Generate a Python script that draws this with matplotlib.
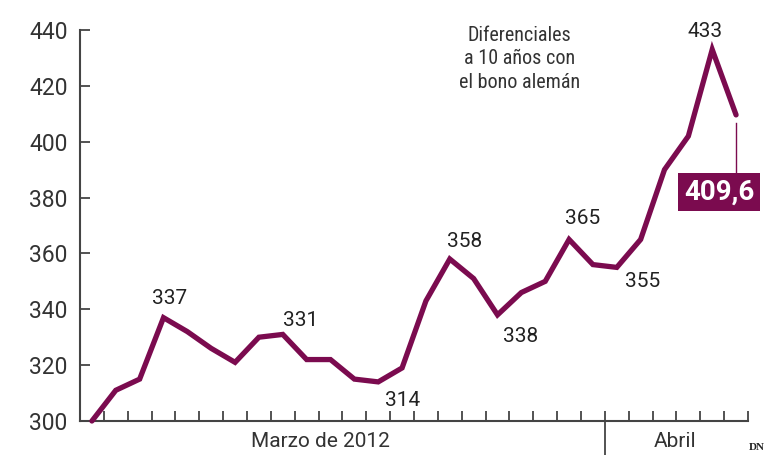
import numpy as np
import matplotlib
matplotlib.use("Agg")
import matplotlib.pyplot as plt
from matplotlib import font_manager as fm
import matplotlib.transforms as mtransforms

# Diferencial a 10 años con el bono alemán, marzo-abril 2012
values = [300, 311, 315, 337, 332, 326, 321, 330, 331, 322, 322, 315, 314, 319,
          343, 358, 351, 338, 346, 350, 365, 356, 355, 365, 390, 402, 433, 409.6]
days = np.arange(len(values))
n_march = 22
yticks = [300, 320, 340, 360, 380, 400, 420, 440]

# labelled points: (index, text, dx px, dy px)
labels = [(3, "337", 6, 19), (8, "331", 18, 14), (12, "314", 24, -19),
          (15, "358", 15, 18), (17, "338", 23, -22), (20, "365", 14, 21),
          (22, "355", 26, -14), (26, "433", -7, 18)]

purple = "#7b0b4f"
grey = "#444444"


def pick(names):
    for name in names:
        try:
            fm.findfont(fm.FontProperties(family=name), fallback_to_default=False)
            return name
        except Exception:
            pass
    return "DejaVu Sans"


main_font = pick(["Roboto", "Noto Sans"])
narrow_font = pick(["Roboto Condensed", "Liberation Sans Narrow", "Roboto", "Noto Sans"])
plt.rcParams["font.family"] = main_font

fig = plt.figure(figsize=(7.82, 4.55), dpi=100)
ax = fig.add_axes([80 / 782, 1 - 421 / 455, 668 / 782, 391 / 455])

ax.plot(days, values, color=purple, lw=3.8, solid_joinstyle="miter",
        solid_capstyle="round", clip_on=False, zorder=3)

ax.set_xlim(-0.5, len(values) - 0.5)
ax.set_ylim(300, 440)
ax.set_yticks(yticks)
ax.set_yticklabels([str(v) for v in yticks], fontsize=16.5, color="#333333")
ax.set_xticks(days + 0.5)
ax.set_xticklabels([])
ax.tick_params(axis="y", direction="in", length=7, width=1.3, color=grey, pad=9)
ax.tick_params(axis="x", direction="in", length=7, width=1.3, color=grey)

for side in ["top", "right"]:
    ax.spines[side].set_visible(False)
for side in ["left", "bottom"]:
    ax.spines[side].set_color(grey)
    ax.spines[side].set_linewidth(1.5)

# separator between March and April
trans = mtransforms.blended_transform_factory(ax.transData, ax.transAxes)
ax.plot([n_march - 0.5, n_march - 0.5], [0, -0.09], color=grey, lw=1.3,
        transform=trans, clip_on=False)

ax.text(9.57, -0.052, "Marzo de 2012", transform=trans,
        ha="center", va="center", fontsize=15, color="#333333")
ax.text(24.45, -0.052, "Abril", transform=trans,
        ha="center", va="center", fontsize=15, color="#333333")

for i, txt, dx, dy in labels:
    ax.annotate(txt, (days[i], values[i]), xytext=(dx * 0.72, dy * 0.72),
                textcoords="offset points", ha="center", va="center",
                fontsize=15, color="#222222")

# last value box with vertical connector
last = len(values) - 1
box_y = values[last] - 27.6
ax.plot([days[last], days[last]], [values[last] - 2.8, box_y + 7.2],
        color=purple, lw=1, zorder=2)
ax.text(days[last] - 0.71, box_y, "409,6", ha="center", va="center",
        fontsize=20, fontweight="bold", color="white",
        bbox=dict(boxstyle="square,pad=0.2", fc=purple, ec="none"))

ax.text(0.658, 0.926, "Diferenciales\na 10 años con\nel bono alemán",
        transform=ax.transAxes, ha="center", va="center", fontsize=14.5,
        color="#333333", family=narrow_font, linespacing=1.3)

fig.text(757 / 782, 1 - 447 / 455, "DN", ha="center", va="center",
         fontsize=8, fontweight="bold", family="Liberation Serif", color="#222222")

fig.savefig("out.png", dpi=100)
